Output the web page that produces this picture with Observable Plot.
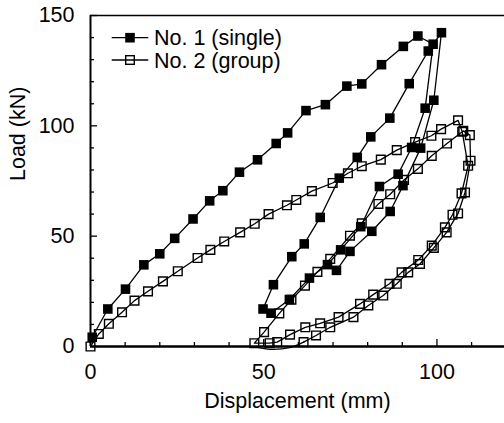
<!DOCTYPE html>
<html>
<head>
<meta charset="utf-8">
<script src="https://cdn.jsdelivr.net/npm/d3@7"></script>
<script src="https://cdn.jsdelivr.net/npm/@observablehq/plot@0.6"></script>
<style>
  html, body { margin: 0; padding: 0; background: #fff; }
</style>
</head>
<body>
<div id="chart"></div>
<script>
// ---- Data: No. 1 (single) — filled squares ----
const s1Load1 = [[0.5,4.2],[5,17],[10.1,26],[15.4,37],[20,42],[24.3,49],[29.6,57.8],[34.4,66],[38.2,70.6],[43,79],[48.2,84.6],[53.6,92],[56.9,96.8],[62.2,106.9],[67.8,109.6],[74,118],[78.3,119],[84,127.7],[90.3,136],[94.5,140.7]];
const s1Unload1 = [[98.9,137],[96.6,108],[92.7,90.2],[88.8,78.1],[83.4,72.5],[78,54.3],[72.2,43.8],[68.4,37.1],[63.2,31],[57.4,21.3],[52.1,15.1]];
const s1Reload = [[49.8,17],[52.8,28],[58.1,40.7],[61.7,46.5],[66.3,58.5],[71.8,76.3],[77,85.7],[80.9,95],[86.4,103.5],[92,119.1],[97.5,133.9],[101.3,142.2]];
const s1Unload2 = [[99.1,111.6],[95.3,89.9],[90.2,72.9],[86.5,61.2],[81.2,52.2],[74.9,43.1],[71,34.5]];

// ---- Data: No. 2 (group) — open squares ----
const s2Load1 = [[0,0],[2.4,5.7],[5.3,10.3],[9.1,15.5],[12.7,20.8],[16.6,25],[20.9,29.5],[25.2,34.1],[30.9,40.1],[34.6,43.8],[38.6,47.6],[43.2,51.7],[47.4,55.6],[51.4,60],[56.7,64],[59.4,66.4],[63.9,70.4],[69.9,74.1],[74.3,78.5],[78.3,81.7],[83.8,84.7],[88.4,89],[93.7,92.6],[98.4,95.5],[101.2,98.5],[106.1,102.5]];
const s2Unload1 = [[107.3,97.3],[109,81.9],[107.1,69.4],[104.5,59.7],[102.3,54],[98.5,45.7],[94.6,39.2],[89.8,33.6],[86.3,28.4],[81.6,23.5],[77.8,19.3],[71.6,13.3],[66.3,10.5],[62,8.7],[57.6,5.4],[53.9,2],[51.7,1.5]];
const s2Reload = [[47.3,1.5],[50.1,6.5],[54.5,15],[58,21.2],[61.9,27.6],[65.5,33.8],[69.2,39.7],[74.9,50.2],[78.3,55.8],[83.1,64.6],[86.5,69],[90.5,75.5],[94.5,80.5],[98.5,86.4],[102.9,92],[107.6,97.7]];
const s2Unload2 = [[109.5,95.8],[109.7,84.2],[108.1,69.8],[106.1,60.3],[102.8,51.7],[99.1,44.7],[95.1,37.4],[91.7,33.6],[88.4,28.4],[84.5,23.1],[80.2,18.6],[75.9,13.3],[69.2,8.7],[65.1,5],[61.5,2]];
const s2Tail = [[61.5,2],[57.5,-0.5],[52,-1.3],[47.5,-0.2]];

// ---- Axes ----
const xDomain = [0, 119.5];
const yDomain = [0, 150];
const xMajor = [0, 50, 100];
const xMinor = [10, 20, 30, 40, 60, 70, 80, 90, 110];
const yMajor = [0, 50, 100, 150];
const yMinor = [10, 20, 30, 40, 60, 70, 80, 90, 110, 120, 130, 140];
const xLabel = "Displacement (mm)";
const yLabel = "Load (kN)";
const seriesNames = ["No. 1 (single)", "No. 2 (group)"];

const W = 504, H = 423, mL = 90, mR = 0, mT = 15, mB = 77;
const plotW = W - mL - mR, plotH = H - mT - mB;
const FS = 21.5;

const series1 = [...s1Load1, ...s1Unload1, ...s1Reload, ...s1Unload2];
const series2 = [...s2Load1, ...s2Unload1, ...s2Reload, ...s2Unload2];

const chart = Plot.plot({
  width: W, height: H,
  marginLeft: mL, marginRight: mR, marginTop: mT, marginBottom: mB,
  x: {domain: xDomain, axis: null},
  y: {domain: yDomain, axis: null},
  style: {fontFamily: "'Liberation Sans', Arial, sans-serif", fontSize: FS + "px", background: "#fff", color: "#000"},
  marks: [
    // series 2 (open)
    Plot.line(series2, {x: d => d[0], y: d => d[1], stroke: "#000", strokeWidth: 1.3}),
    Plot.line(s2Tail, {x: d => d[0], y: d => d[1], stroke: "#000", strokeWidth: 1.3, curve: "catmull-rom"}),
    Plot.dot(series2, {x: d => d[0], y: d => d[1], symbol: "square", r: 4.9, stroke: "#000", strokeWidth: 1.4, fill: "none"}),
    // series 1 (filled)
    Plot.line(series1, {x: d => d[0], y: d => d[1], stroke: "#000", strokeWidth: 1.3}),
    Plot.dot(series1, {x: d => d[0], y: d => d[1], symbol: "square", r: 5.4, fill: "#000", stroke: "none"}),
    // frame lines
    Plot.ruleX([xDomain[0]], {stroke: "#000", strokeWidth: 2}),
    Plot.ruleY([yDomain[1]], {stroke: "#000", strokeWidth: 1.5}),
    Plot.ruleY([yDomain[0]], {stroke: "#000", strokeWidth: 2.5}),
    // ticks (inward)
    Plot.tickX(xMajor, {x: d => d, insetTop: plotH - 7, stroke: "#000", strokeWidth: 1.3}),
    Plot.tickX(xMinor, {x: d => d, insetTop: plotH - 4, stroke: "#000", strokeWidth: 1.3}),
    Plot.tickY(yMajor, {y: d => d, insetRight: plotW - 7, stroke: "#000", strokeWidth: 1.3}),
    Plot.tickY(yMinor, {y: d => d, insetRight: plotW - 4, stroke: "#000", strokeWidth: 1.3}),
    // tick labels
    Plot.text(xMajor, {x: d => d, text: d => String(d), frameAnchor: "bottom", dy: 32, fill: "#000", fontSize: FS}),
    Plot.text(yMajor, {y: d => d, text: d => String(d), frameAnchor: "left", dx: -16, textAnchor: "end", fill: "#000", fontSize: FS}),
    // axis titles
    Plot.text([xLabel], {text: d => d, frameAnchor: "bottom", dy: 61, fill: "#000", fontSize: FS}),
    Plot.text([yLabel], {text: d => d, frameAnchor: "left", dx: -72, rotate: -90, fill: "#000", fontSize: FS})
  ]
});

// Legend (inside plot, top-left)
const svg = d3.select(chart);
const leg = svg.append("g")
  .attr("font-family", "'Liberation Sans', Arial, sans-serif")
  .attr("font-size", FS)
  .attr("text-anchor", "start");
const legY = [37.7, 60];
seriesNames.forEach((name, i) => {
  const y = legY[i];
  leg.append("line").attr("x1", 111.7).attr("x2", 148.3).attr("y1", y).attr("y2", y)
    .attr("stroke", "#000").attr("stroke-width", 1.3);
  if (i === 0) {
    leg.append("rect").attr("x", 130 - 4.8).attr("y", y - 4.8).attr("width", 9.6).attr("height", 9.6).attr("fill", "#000");
  } else {
    leg.append("rect").attr("x", 130 - 4.3).attr("y", y - 4.3).attr("width", 8.6).attr("height", 8.6)
      .attr("fill", "none").attr("stroke", "#000").attr("stroke-width", 1.4);
  }
  leg.append("text").attr("x", 154).attr("y", y).attr("dy", "0.35em").attr("text-anchor", "start").attr("fill", "#000").text(name);
});

document.getElementById("chart").appendChild(chart);
</script>
</body>
</html>
